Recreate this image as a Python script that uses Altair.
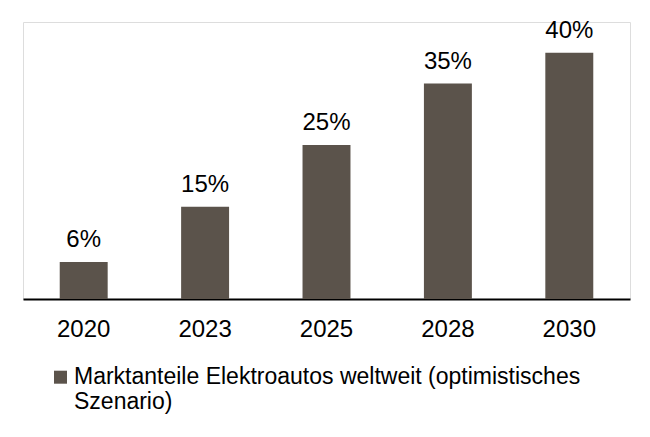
import altair as alt
import pandas as pd

years = ["2020", "2023", "2025", "2028", "2030"]
shares = [6, 15, 25, 35, 40]
labels = ["6%", "15%", "25%", "35%", "40%"]
series = "Marktanteile Elektroautos weltweit (optimistisches Szenario)"

df = pd.DataFrame({"Jahr": years, "Anteil": shares, "Label": labels, "Serie": series})

FONT = "Liberation Sans"
BAR = "#5b534b"

base = alt.Chart(df).encode(
    x=alt.X("Jahr:N", sort=years, title=None,
            scale=alt.Scale(paddingInner=0.605, paddingOuter=0.3025),
            axis=alt.Axis(labelAngle=0, labelFontSize=24, labelColor="#000000",
                          labelFont=FONT, ticks=False, domainColor="#000000",
                          domainWidth=2, labelPadding=18, grid=False)),
    y=alt.Y("Anteil:Q", scale=alt.Scale(domain=[0, 45], nice=False), axis=None),
)

bars = base.mark_bar(color=BAR).encode(
    color=alt.Color("Serie:N", scale=alt.Scale(range=[BAR]), title=None,
                    legend=alt.Legend(orient="none", legendX=26, legendY=332,
                                      symbolType="M-1,0.8H1V2.8H-1Z",
                                      symbolSize=169,
                                      symbolStrokeWidth=0, labelFontSize=23,
                                      labelFont=FONT, labelColor="#000000",
                                      labelLimit=700, labelBaseline="top",
                                      labelOffset=2,
                                      labelExpr="['Marktanteile Elektroautos weltweit (optimistisches', 'Szenario)']"))
)

text = base.mark_text(baseline="alphabetic", dy=-15, fontSize=24, font=FONT,
                      color="#000000").encode(text="Label:N")

chart = (bars + text).properties(
    width=607, height=277,
    autosize=alt.AutoSizeParams(type="none"),
    padding={"left": 15, "top": 14, "right": 12, "bottom": 130},
).configure_view(stroke=None).configure(background="#ffffff")

chart.save("out.html", embed_options={"renderer": "svg", "actions": False})
